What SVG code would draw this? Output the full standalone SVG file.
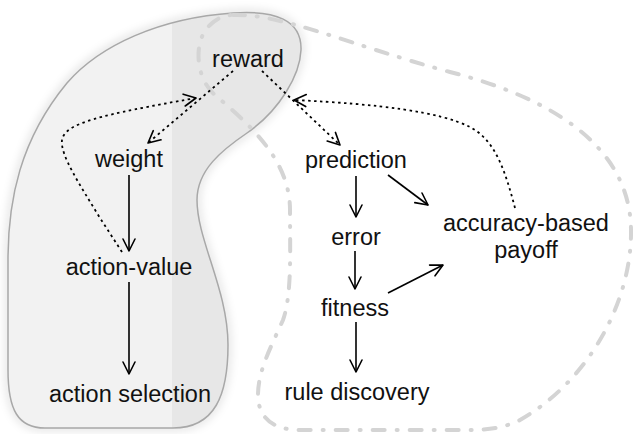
<svg xmlns="http://www.w3.org/2000/svg" width="633" height="434" viewBox="0 0 633 434">
<style>
.lbl{font-family:"Liberation Sans",Arial,sans-serif;font-size:23.5px;fill:#111;text-anchor:middle}
.solid{fill:none;stroke:#000;stroke-width:1.6;marker-end:url(#ah)}
.dot{fill:none;stroke:#000;stroke-width:1.8;stroke-dasharray:2.5 3.5;marker-end:url(#ah)}
</style>
<defs>
<marker id="ah" markerUnits="userSpaceOnUse" markerWidth="30" markerHeight="30" refX="0" refY="0" viewBox="-15 -15 30 30" orient="auto" overflow="visible">
<path d="M-12,-6 L0,0 L-12,6" fill="none" stroke="#000" stroke-width="1.6" stroke-linecap="round" stroke-linejoin="round"/>
</marker>
<clipPath id="blobclip">
<path d="M233,13 C275,10 302,20 301,50 C300,75 280,110 247,133 C222,150 197,170 197,200 C197,240 228,290 228,345 C228,395 215,428 173,428 L45,428 C18,428 8,410 8,370 L8,260 C8,200 20,140 67,83 C100,45 160,18 233,13 Z"/>
</clipPath>
<filter id="soft" x="-20%" y="-20%" width="140%" height="140%">
<feGaussianBlur stdDeviation="4"/>
</filter>
</defs>
<g id="group-left">
<path d="M233,13 C275,10 302,20 301,50 C300,75 280,110 247,133 C222,150 197,170 197,200 C197,240 228,290 228,345 C228,395 215,428 173,428 L45,428 C18,428 8,410 8,370 L8,260 C8,200 20,140 67,83 C100,45 160,18 233,13 Z" fill="none" stroke="#000" stroke-opacity="0.12" stroke-width="6" filter="url(#soft)"/>
<path d="M233,13 C275,10 302,20 301,50 C300,75 280,110 247,133 C222,150 197,170 197,200 C197,240 228,290 228,345 C228,395 215,428 173,428 L45,428 C18,428 8,410 8,370 L8,260 C8,200 20,140 67,83 C100,45 160,18 233,13 Z" fill="#f2f2f2"/>
<rect x="172" y="0" width="140" height="434" fill="#e7e7e7" clip-path="url(#blobclip)"/>
<path d="M233,13 C275,10 302,20 301,50 C300,75 280,110 247,133 C222,150 197,170 197,200 C197,240 228,290 228,345 C228,395 215,428 173,428 L45,428 C18,428 8,410 8,370 L8,260 C8,200 20,140 67,83 C100,45 160,18 233,13 Z" fill="none" stroke="#a8a8a8" stroke-width="1.5"/>
</g>
<g id="group-right">
<path d="M233,15 C280,13 350,45 450,72 C540,95 630,140 631,230 C632,300 590,380 520,420 C500,430 480,430 460,430 L300,430 C270,430 258,415 258,395 C258,370 272,345 283,320 C292,295 290,250 290,210 C290,160 250,125 215,95 C195,78 193,40 210,25 C217,18 225,15 233,15 Z" fill="none" stroke="#d4d4d4" stroke-width="4" stroke-linecap="round" stroke-dasharray="12 12 1 12"/>
</g>
<g id="connectors">
<line class="solid" x1="129" y1="175" x2="129" y2="251"/>
<line class="solid" x1="129" y1="282" x2="129" y2="374"/>
<line class="solid" x1="356" y1="176" x2="356" y2="217"/>
<line class="solid" x1="388" y1="175" x2="428" y2="205"/>
<line class="solid" x1="355" y1="251" x2="355" y2="289"/>
<line class="solid" x1="388" y1="293" x2="443" y2="265"/>
<line class="solid" x1="356" y1="322" x2="356" y2="372"/>
<line class="dot" x1="233" y1="71" x2="148" y2="143"/>
<line class="dot" x1="262" y1="71" x2="340" y2="145"/>
<path class="dot" d="M122,252 L100,218 C80,185 60,155 62,140 C65,123 100,115 196,98"/>
<path class="dot" d="M515,208 C505,170 495,140 470,127 C440,112 380,104 294,100"/>
</g>
<g id="node-reward"><text class="lbl" x="248" y="67">reward</text></g>
<g id="node-weight"><text class="lbl" x="129" y="167">weight</text></g>
<g id="node-action-value"><text class="lbl" x="129" y="275">action-value</text></g>
<g id="node-action-selection"><text class="lbl" x="130" y="402">action selection</text></g>
<g id="node-prediction"><text class="lbl" x="356" y="168">prediction</text></g>
<g id="node-error"><text class="lbl" x="356" y="245">error</text></g>
<g id="node-fitness"><text class="lbl" x="355" y="316">fitness</text></g>
<g id="node-rule-discovery"><text class="lbl" x="357" y="400">rule discovery</text></g>
<g id="node-payoff"><text class="lbl" x="526" y="231">accuracy-based</text><text class="lbl" x="526" y="258">payoff</text></g>
</svg>
